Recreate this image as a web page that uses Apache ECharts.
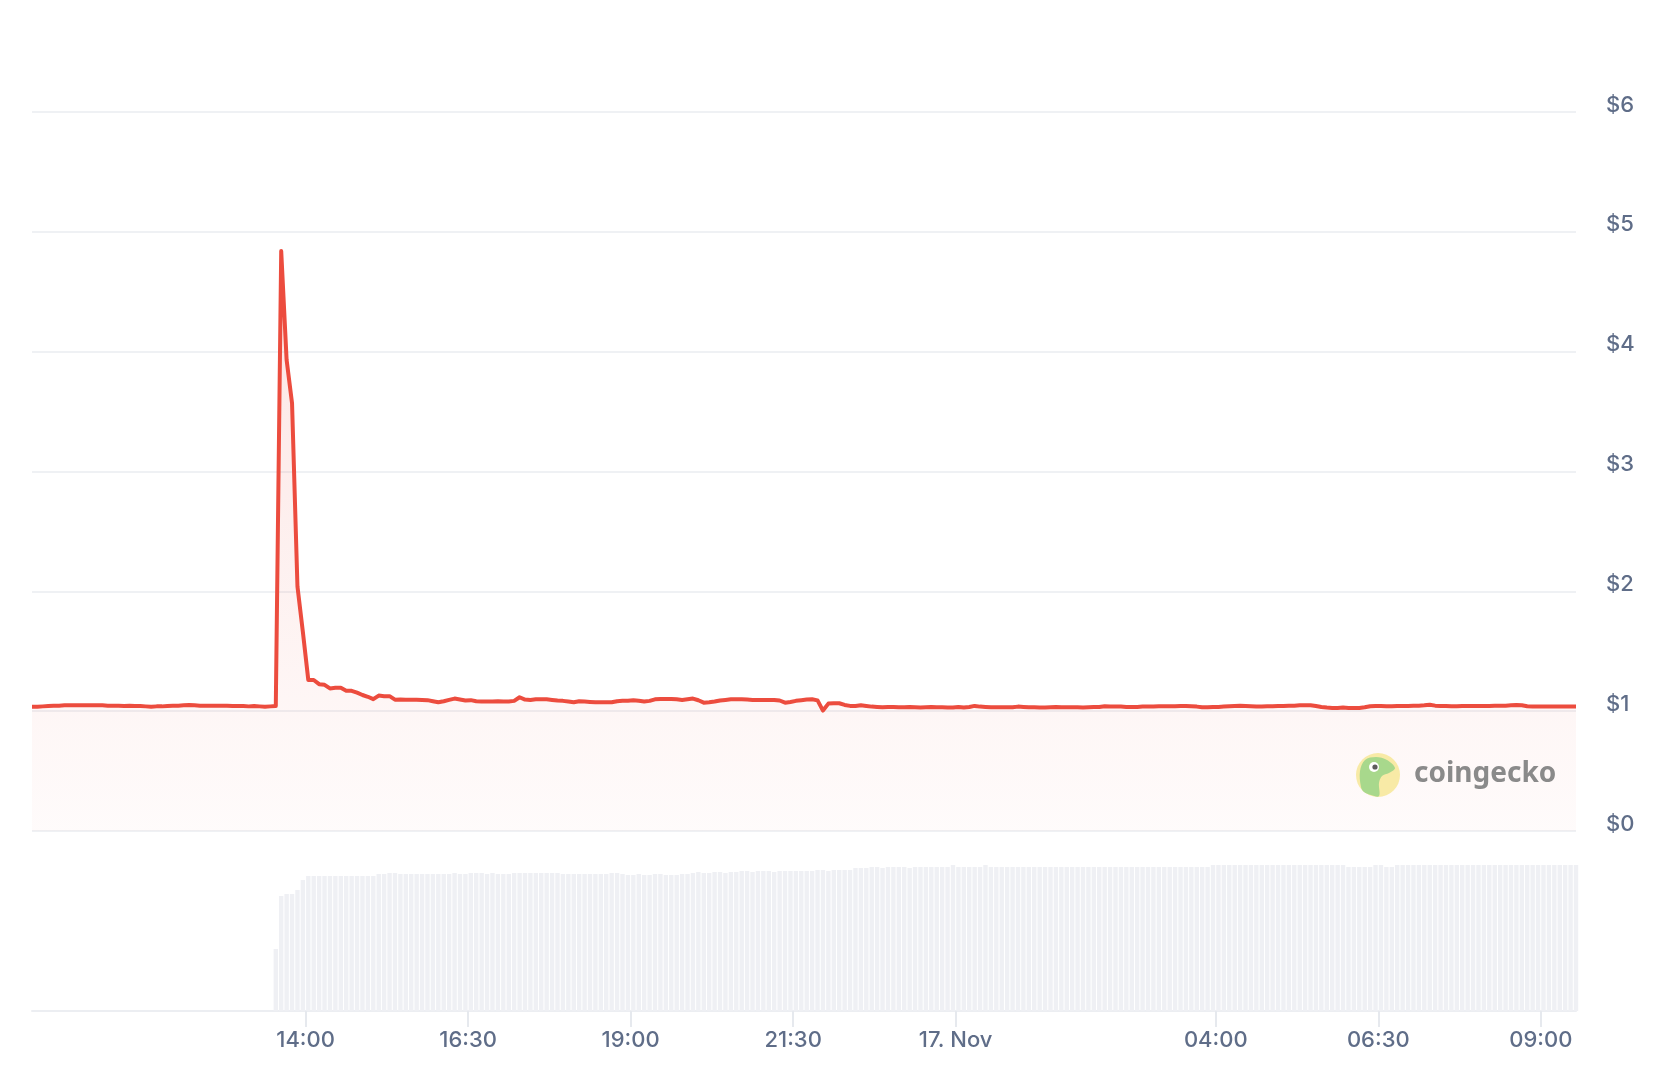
<!DOCTYPE html>
<html>
<head>
<meta charset="utf-8">
<script src="https://cdn.jsdelivr.net/npm/echarts/dist/echarts.min.js"></script>
<style>
  html, body { margin: 0; padding: 0; background: #ffffff; }
  #chart { width: 1670px; height: 1088px; }
</style>
</head>
<body>
<div id="chart"></div>
<script>
// ---- Data (5-minute samples, times in hours since 16 Nov 00:00) ----
const START_HOUR = 9 + 47.5 / 60;   // ~09:47
const STEP_HOURS = 5 / 60;          // 5 minutes

const price = [
  1.037,1.037,1.040,1.043,1.046,1.046,1.049,1.049,1.049,1.049,
  1.049,1.049,1.049,1.049,1.046,1.046,1.046,1.043,1.046,1.043,
  1.043,1.040,1.037,1.040,1.040,1.043,1.046,1.046,1.049,1.052,
  1.049,1.046,1.046,1.046,1.046,1.046,1.046,1.043,1.043,1.043,
  1.040,1.043,1.040,1.037,1.040,1.043,4.84,3.93,3.57,2.04,
  1.66,1.26,1.26,1.225,1.22,1.19,1.195,1.195,1.17,1.17,
  1.155,1.135,1.12,1.10,1.13,1.125,1.125,1.096,1.097,1.096,
  1.096,1.096,1.094,1.092,1.083,1.074,1.083,1.094,1.105,1.097,
  1.089,1.092,1.083,1.080,1.080,1.080,1.083,1.080,1.080,1.086,
  1.116,1.097,1.094,1.099,1.099,1.099,1.094,1.089,1.086,1.080,
  1.074,1.083,1.080,1.077,1.074,1.074,1.074,1.074,1.083,1.086,
  1.086,1.091,1.086,1.080,1.086,1.099,1.102,1.102,1.102,1.099,
  1.094,1.099,1.105,1.091,1.071,1.074,1.080,1.089,1.094,1.099,
  1.099,1.099,1.097,1.094,1.094,1.094,1.094,1.094,1.089,1.071,
  1.077,1.086,1.091,1.097,1.099,1.090,1.005,1.063,1.066,1.066,
  1.052,1.044,1.044,1.049,1.044,1.038,1.035,1.032,1.035,1.035,
  1.032,1.032,1.035,1.032,1.030,1.032,1.035,1.032,1.032,1.030,
  1.030,1.035,1.030,1.035,1.044,1.038,1.035,1.032,1.032,1.032,
  1.032,1.032,1.038,1.035,1.032,1.032,1.030,1.030,1.032,1.035,
  1.032,1.032,1.032,1.032,1.030,1.032,1.035,1.035,1.041,1.038,
  1.038,1.038,1.035,1.035,1.035,1.038,1.038,1.038,1.041,1.041,
  1.041,1.041,1.044,1.044,1.041,1.038,1.032,1.032,1.035,1.035,
  1.038,1.041,1.043,1.046,1.043,1.041,1.038,1.038,1.041,1.041,
  1.043,1.043,1.046,1.046,1.049,1.049,1.049,1.043,1.035,1.030,
  1.027,1.027,1.030,1.027,1.027,1.027,1.032,1.041,1.043,1.043,
  1.041,1.041,1.043,1.043,1.043,1.046,1.046,1.049,1.054,1.046,
  1.043,1.043,1.041,1.041,1.043,1.043,1.043,1.043,1.043,1.043,
  1.046,1.046,1.046,1.049,1.052,1.049,1.041,1.038,1.038,1.038,
  1.038,1.038,1.038,1.038,1.038,1.038
];

// Volume bars start at sample index 45 (arbitrary units, $M)
const VOLUME_START = 45;
const volume = [
  6.2,11.5,11.7,11.7,12.1,13.1,13.5,13.5,13.5,13.5,
  13.5,13.5,13.5,13.5,13.5,13.5,13.5,13.5,13.5,13.7,
  13.7,13.8,13.8,13.7,13.7,13.7,13.7,13.7,13.7,13.7,
  13.7,13.7,13.7,13.8,13.7,13.7,13.8,13.8,13.8,13.7,
  13.8,13.7,13.7,13.7,13.8,13.8,13.8,13.8,13.8,13.8,
  13.8,13.8,13.8,13.7,13.7,13.7,13.7,13.7,13.7,13.7,
  13.7,13.7,13.8,13.8,13.7,13.6,13.6,13.7,13.6,13.6,
  13.7,13.7,13.6,13.6,13.6,13.7,13.7,13.8,13.9,13.8,
  13.8,13.9,13.9,13.8,13.9,13.9,14.0,14.0,13.9,14.0,
  14.0,14.0,13.9,14.0,14.0,14.0,14.0,14.0,14.0,14.0,
  14.1,14.1,14.0,14.1,14.1,14.1,14.1,14.3,14.3,14.3,
  14.4,14.4,14.3,14.4,14.4,14.4,14.4,14.3,14.4,14.4,
  14.4,14.4,14.4,14.4,14.4,14.6,14.4,14.4,14.4,14.4,
  14.4,14.6,14.4,14.4,14.4,14.4,14.4,14.4,14.4,14.4,
  14.4,14.4,14.4,14.4,14.4,14.4,14.4,14.4,14.4,14.4,
  14.4,14.4,14.4,14.4,14.4,14.4,14.4,14.4,14.4,14.4,
  14.4,14.4,14.4,14.4,14.4,14.4,14.4,14.4,14.4,14.4,
  14.4,14.4,14.4,14.6,14.6,14.6,14.6,14.6,14.6,14.6,
  14.6,14.6,14.6,14.6,14.6,14.6,14.6,14.6,14.6,14.6,
  14.6,14.6,14.6,14.6,14.6,14.6,14.6,14.6,14.4,14.4,
  14.4,14.4,14.4,14.6,14.6,14.4,14.4,14.6,14.6,14.6,
  14.6,14.6,14.6,14.6,14.6,14.6,14.6,14.6,14.6,14.6,
  14.6,14.6,14.6,14.6,14.6,14.6,14.6,14.6,14.6,14.6,
  14.6,14.6,14.6,14.6,14.6,14.6,14.6,14.6,14.6,14.6,
  14.6
];

const tickHours  = [14, 16.5, 19, 21.5, 24, 28, 30.5, 33];
const tickLabels = ['14:00', '16:30', '19:00', '21:30', '17. Nov', '04:00', '06:30', '09:00'];
const yTickLabels = ['$0', '$1', '$2', '$3', '$4', '$5', '$6'];

// ---- Build series data ----
const priceData = price.map((v, i) => [START_HOUR + i * STEP_HOURS, v]);
const volumeData = volume.map((v, k) => [START_HOUR + (VOLUME_START + k) * STEP_HOURS, v]);
const X_MIN = START_HOUR;
const X_MAX = START_HOUR + (price.length - 1) * STEP_HOURS;

const LABEL_COLOR = '#5f6d88';
const FONT = 'Inter';
const GRID_COLOR = '#eff1f4';

const chart = echarts.init(document.getElementById('chart'), null, { renderer: 'canvas' });

chart.setOption({
  animation: false,
  backgroundColor: '#ffffff',
  grid: [
    { left: 32, right: 94, top: 112, height: 719 },
    { left: 32, right: 94, top: 865, height: 146 }
  ],
  xAxis: [
    {
      type: 'value', gridIndex: 0, min: X_MIN, max: X_MAX,
      show: false, splitLine: { show: false }
    },
    {
      type: 'value', gridIndex: 1, min: X_MIN, max: X_MAX,
      splitLine: { show: false },
      axisLine: { show: true, lineStyle: { color: '#eceef2', width: 2 } },
      axisTick: { show: true, customValues: tickHours, length: 16, lineStyle: { color: '#e6e9ee', width: 2 } },
      axisLabel: {
        show: true,
        customValues: tickHours,
        margin: 18,
        color: LABEL_COLOR,
        fontFamily: FONT,
        fontWeight: 500,
        fontSize: 22,
        formatter: function (v) {
          for (let j = 0; j < tickHours.length; j++) {
            if (Math.abs(tickHours[j] - v) < 1e-6) return tickLabels[j];
          }
          return '';
        }
      }
    }
  ],
  yAxis: [
    {
      type: 'value', gridIndex: 0, position: 'right',
      min: 0, max: 6, interval: 1,
      axisLine: { show: false }, axisTick: { show: false },
      splitLine: { show: true, lineStyle: { color: GRID_COLOR, width: 2 } },
      axisLabel: {
        margin: 30,
        color: LABEL_COLOR,
        fontFamily: FONT,
        fontWeight: 500,
        fontSize: 22,
        verticalAlign: 'bottom',
        lineHeight: 14,
        formatter: function (v) { return yTickLabels[Math.round(v)]; }
      }
    },
    {
      type: 'value', gridIndex: 1, min: 0, max: 14.6,
      show: false, splitLine: { show: false }
    }
  ],
  series: [
    {
      type: 'bar',
      xAxisIndex: 1, yAxisIndex: 1,
      data: volumeData,
      barWidth: 4.4,
      itemStyle: { color: '#eff0f4' },
      silent: true
    },
    {
      type: 'line',
      xAxisIndex: 0, yAxisIndex: 0,
      data: priceData,
      showSymbol: false,
      smooth: false,
      lineStyle: { color: '#ec4c3e', width: 4, join: 'round' },
      areaStyle: {
        color: {
          type: 'linear', x: 0, y: 112, x2: 0, y2: 831, global: true,
          colorStops: [
            { offset: 0, color: 'rgba(235,75,62,0.25)' },
            { offset: 1, color: 'rgba(235,75,62,0.03)' }
          ]
        }
      },
      z: 3
    }
  ],
  graphic: [
    {
      type: 'circle',
      z: 10,
      shape: { cx: 1378, cy: 775, r: 22 },
      style: { fill: '#f8eaa6' }
    },
    {
      type: 'polygon',
      z: 11,
      shape: {
        points: [[1361, 787], [1360, 771], [1365, 760], [1376, 757], [1387, 760], [1395, 768],
                 [1389, 773], [1382, 776], [1379, 783], [1379, 796], [1371, 795], [1364, 792]],
        smooth: 0.35
      },
      style: { fill: '#a8d88c' }
    },
    {
      type: 'circle',
      z: 12,
      shape: { cx: 1374, cy: 767, r: 5 },
      style: { fill: '#ffffff' }
    },
    {
      type: 'circle',
      z: 13,
      shape: { cx: 1375, cy: 767, r: 2.6 },
      style: { fill: '#5d5d5d' }
    },
    {
      type: 'text',
      z: 12,
      x: 1414, y: 760,
      style: {
        text: 'coingecko',
        fill: '#8a8a8a',
        font: 'bold 28px "Noto Sans"'
      }
    }
  ]
});
</script>
</body>
</html>
